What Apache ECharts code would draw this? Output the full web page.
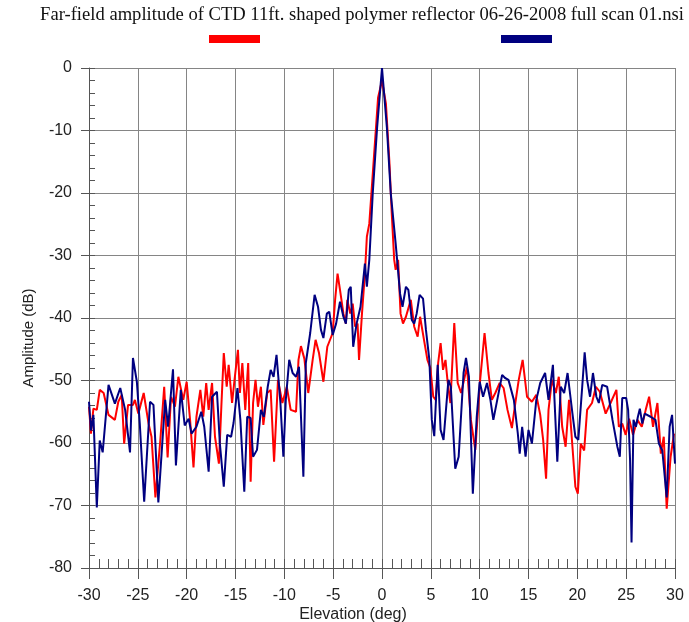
<!DOCTYPE html>
<html>
<head>
<meta charset="utf-8">
<script src="https://cdn.jsdelivr.net/npm/echarts@6/dist/echarts.min.js"></script>
<style>
  html, body { margin: 0; padding: 0; background: #ffffff; }
  #chart { width: 689px; height: 622px; }
</style>
</head>
<body>
<div id="chart"></div>
<script>
// Far-field elevation cut, amplitude in dB, two scans
const redElev = [-30, -29.8, -29.55, -29.2, -28.9, -28.5, -28.0, -27.35, -27.0, -26.65, -26.4, -26.0, -25.5, -25.3, -24.95, -24.4, -23.9, -23.6, -23.2, -22.7, -22.3, -21.95, -21.6, -21.2, -20.85, -20.35, -20.0, -19.65, -19.3, -19.0,
  -18.6, -18.3, -18.0, -17.75, -17.4, -17.1, -16.7, -16.45, -16.2, -15.9, -15.7, -15.35, -15.1, -14.75, -14.55, -14.3, -14.0, -13.7, -13.45, -13.2, -12.95, -12.7, -12.4, -12.15, -11.75, -11.4, -11.05, -10.65, -10.2, -9.75, -9.35, -8.8, -8.55, -8.3,
  -7.95, -7.55, -7.1, -6.8, -6.45, -6.0, -5.6, -5.05, -4.8, -4.55, -4.3, -3.95, -3.7, -3.55, -3.25, -3.0, -2.75, -2.5, -2.35, -2.05, -1.75, -1.55, -1.3, -0.85, -0.4, 0, 0.4, 0.75, 1.0, 1.25, 1.4, 1.65, 1.9, 2.15, 2.45, 2.95, 3.3, 3.65, 3.9, 4.3, 4.65,
  4.95, 5.25, 5.5, 5.75, 6.0, 6.25, 6.5, 6.7, 7.0, 7.4, 7.75, 8.1, 8.7, 9.1, 9.55, 10.05, 10.5, 10.9, 11.25, 11.6, 12.05, 12.45, 12.85, 13.3, 13.65, 14.0, 14.4, 14.85, 15.35, 15.8, 16.2, 16.5, 16.8, 17.05, 17.4,
  17.8, 18.1, 18.45, 18.8, 19.15, 19.5, 19.8, 20.05, 20.35, 20.7, 21.0, 21.5, 21.9, 22.3, 22.9, 23.4, 24.0, 24.25, 24.6, 24.95, 25.3, 25.7, 26.15, 26.6, 27.0, 27.35, 27.75, 28.2, 28.55, 28.85, 29.15, 29.55, 29.9];
const redAmp = [-54.2, -58.5, -54.5, -54.7, -51.5, -52, -55.5, -56.3, -53.4, -52.3, -60.1, -53.9, -53.9, -53.1, -55.3, -52, -56.9, -59, -68.7, -59.6, -51, -62.3, -52.6, -54.2, -49.4, -53.1, -50.2, -56.3, -63.9, -55.8,
  -51.5, -55.8, -50.4, -54.7, -50.4, -59, -63.3, -54.2, -45.6, -51, -47.5, -53.6, -49.9, -45.1, -52, -47.2, -54.7, -47.2, -66.2, -53.6, -49.9, -54.2, -51, -57.1, -52, -51.5, -63, -49.9, -53.6, -51, -54.7, -55, -46.7, -44.5,
  -46.5, -52, -46.7, -43.5, -45.6, -50.2, -44.6, -42.4, -37.1, -32.9, -35.5, -39.3, -40.9, -37.1, -39.3, -37.7, -41.4, -40.9, -46.7, -39.3, -32.9, -27, -24.9, -14.8, -4.7, -2, -5.7, -14.8, -23.3, -30.7, -32.3, -30.7, -39.3, -40.9, -39.8, -37.1, -41.4, -43, -39.8, -43.5, -46.7,
  -48, -52.6, -53.1, -47.2, -44, -48.3, -46.7, -49.9, -53.6, -40.8, -50.4, -52, -47.8, -56.3, -61.1, -49.9, -42.4, -48.8, -53.1, -52, -50.4, -51.2, -54.7, -57.6, -53.6, -49.9, -46.7, -52.6, -53.4, -52.3, -55.5, -59.5, -65.7, -54.7, -49.9,
  -52, -49.4, -57.4, -60.6, -53.1, -60.6, -67, -68.1, -60.1, -61.2, -54.7, -53.6, -51, -51.8, -55.3, -53.6, -51.5, -57.4, -56.9, -58.7, -56.1, -58.7, -56.3, -57.4, -54.7, -52.6, -57.4, -53.6, -61.7, -59, -70.5, -62.2, -58.5];

const blueElev = [-30, -29.8, -29.55, -29.2, -28.9, -28.6, -28.0, -27.35, -26.8, -26.3, -25.8, -25.5, -25.1, -24.8, -24.35, -23.75, -23.4, -22.9, -22.2, -21.9, -21.4, -21.1, -20.6, -20.2, -19.8, -19.5, -19.0, -18.5,
  -18.2, -17.75, -17.4, -16.9, -16.6, -16.2, -15.85, -15.45, -15.2, -14.8, -14.5, -14.1, -13.8, -13.45, -13.2, -12.8, -12.4, -12.1, -11.7, -11.4, -11.1, -10.8, -10.4, -10.1, -9.85, -9.5, -9.15, -8.8, -8.5, -8.05,
  -7.8, -7.35, -6.9, -6.55, -6.25, -6.0, -5.65, -5.4, -5.05, -4.7, -4.3, -3.95, -3.7, -3.4, -3.2, -2.95, -2.6, -2.2, -1.75, -1.55, -1.3, -0.95, -0.5, 0, 0.5, 0.9, 1.4, 1.85, 2.1, 2.45, 2.7, 3.05, 3.3, 3.55, 3.85, 4.2, 4.5, 4.85, 5.1, 5.35,
  5.7, 6.0, 6.3, 6.8, 7.05, 7.5, 7.85, 8.35, 8.6, 8.9, 9.3, 9.7, 10.0, 10.35, 10.75, 11.1, 11.4, 11.8, 12.3, 12.6, 12.95, 13.5, 13.9, 14.1, 14.35, 14.7, 15.0, 15.35, 15.8, 16.2, 16.7, 17.05, 17.5,
  17.95, 18.3, 18.65, 19.0, 19.5, 19.8, 20.1, 20.5, 20.75, 21.0, 21.3, 21.6, 21.95, 22.2, 22.55, 23.05, 23.6, 24.1, 24.35, 24.6, 25.0, 25.2, 25.4, 25.55, 25.75, 26.0, 26.2, 26.4, 26.65, 26.9, 27.5, 28.0, 28.35, 28.7, 29.15, 29.45, 29.7, 30.0];
const blueAmp = [-53.4, -58, -55.5, -70.3, -59.6, -61.5, -50.7, -53.7, -51.2, -54.7, -61.5, -46.4, -50.2, -56.9, -69.4, -53.4, -53.9, -69.5, -53.1, -57.4, -48.2, -63.6, -51.5, -57.2, -56.1, -58.5, -57.4, -55,
  -57.4, -64.6, -52.6, -51.8, -60.1, -67, -58.7, -59, -56.8, -51.2, -56.3, -67.8, -55.8, -56, -62.2, -61.1, -54.7, -55.8, -51, -48.3, -49.4, -45.9, -53.6, -62.2, -53.1, -46.7, -48.8, -49.4, -47.8, -65.4,
  -47.2, -42.4, -36.3, -38.2, -41.9, -43.2, -39.3, -39, -42.7, -40.9, -37.4, -39.8, -40.9, -35.5, -35, -44.6, -40.9, -38.2, -31.3, -35, -30.7, -20.1, -9.5, 0, -9.5, -20.1, -28.1, -36.1, -38.2, -35, -35.5, -40.3, -40.9, -39.3, -36.3, -36.9, -41.9, -46.7, -56.3, -58.9,
  -47.5, -57.9, -59.5, -49.9, -51, -64.1, -62.2, -48.8, -46.4, -49.4, -68.1, -55.8, -50.2, -52.6, -50.4, -53.1, -56.3, -53.1, -49.1, -49.6, -49.9, -53.1, -58.4, -61.7, -57.4, -62.2, -57.9, -60.1, -53.1, -50.4, -48.8, -53.1, -47.5,
  -63, -51, -52, -48.8, -55.3, -59, -59.5, -51, -45.5, -49.9, -52.6, -48.8, -52.6, -53.6, -50.7, -51, -56.3, -60.6, -62.2, -52.8, -52.8, -54.7, -62.8, -75.9, -56.3, -57.4, -55.8, -54.5, -56.9, -55.3, -55.8, -56.3, -60.1, -61.2, -68.7, -57.4, -55.5, -63.3];

const titleText = 'Far-field amplitude of CTD 11ft. shaped polymer reflector 06-26-2008 full scan 01.nsi';
const xName = 'Elevation (deg)';
const yName = 'Amplitude (dB)';

const pairs = (xs, ys) => xs.map((x, i) => [x, ys[i]]);

const gridColor = '#858585';
const axisColor = '#555555';
const sans = 'Liberation Sans, Arial, sans-serif';

const chart = echarts.init(document.getElementById('chart'), null, { renderer: 'canvas' });
chart.setOption({
  animation: false,
  backgroundColor: '#ffffff',
  title: {
    text: titleText,
    left: 357, top: 1, textAlign: 'center',
    textStyle: { fontFamily: 'Liberation Serif, Times New Roman, serif', fontSize: 18.6, fontWeight: 'normal', color: '#111' }
  },
  legend: {
    left: 204, top: 30,
    icon: 'rect', itemWidth: 51, itemHeight: 8, itemGap: 241,
    formatter: () => '',
    textStyle: { fontSize: 10 },
    selectedMode: false,
    data: ['Scan A', 'Scan B']
  },
  grid: { left: 89, right: 14, top: 68, bottom: 54, containLabel: false, outerBoundsMode: 'none' },
  xAxis: [{
    type: 'value', min: -30, max: 30, interval: 5,
    name: xName, nameLocation: 'middle', nameGap: 39, nameMoveOverlap: false,
    nameTextStyle: { fontFamily: sans, fontSize: 16, color: '#222', padding: [0, 58, 0, 0] },
    axisLine: { show: true, onZero: false, lineStyle: { color: axisColor, width: 1 } },
    axisTick: { show: true, inside: false, length: 11, lineStyle: { color: axisColor } },
    axisLabel: { fontFamily: sans, fontSize: 16, color: '#222', margin: 20 },
    splitLine: { show: true, lineStyle: { color: gridColor, width: 1 } }
  }, {
    // minor ticks every degree, drawn inside the plot
    type: 'value', min: -30, max: 30, interval: 1, position: 'bottom',
    axisLine: { show: false, onZero: false },
    axisTick: { show: true, inside: true, length: 9, lineStyle: { color: axisColor } },
    axisLabel: { show: false },
    splitLine: { show: false }
  }],
  yAxis: [{
    type: 'value', min: -80, max: 0, interval: 10,
    name: yName, nameLocation: 'middle', nameGap: 53, nameRotate: 90, nameMoveOverlap: false,
    nameTextStyle: { fontFamily: sans, fontSize: 15, color: '#222', padding: [0, 40, 0, 0] },
    axisLine: { show: true, onZero: false, lineStyle: { color: axisColor, width: 1 } },
    axisTick: { show: true, inside: false, length: 8, lineStyle: { color: axisColor } },
    axisLabel: { fontFamily: sans, fontSize: 16, color: '#222', margin: 17 },
    splitLine: { show: true, lineStyle: { color: gridColor, width: 1 } }
  }, {
    // minor ticks every 2 dB, drawn inside the plot
    type: 'value', min: -80, max: 0, interval: 2, position: 'left',
    axisLine: { show: false, onZero: false },
    axisTick: { show: true, inside: true, length: 6, lineStyle: { color: axisColor } },
    axisLabel: { show: false },
    splitLine: { show: false }
  }],
  series: [{
    name: 'Scan A', type: 'line', data: pairs(redElev, redAmp),
    showSymbol: false, symbol: 'none', smooth: false,
    lineStyle: { color: '#ff0000', width: 2 }, itemStyle: { color: '#ff0000' },
    z: 2
  }, {
    name: 'Scan B', type: 'line', data: pairs(blueElev, blueAmp),
    showSymbol: false, symbol: 'none', smooth: false,
    lineStyle: { color: '#000080', width: 2 }, itemStyle: { color: '#000080' },
    z: 3
  }]
});
</script>
</body>
</html>
